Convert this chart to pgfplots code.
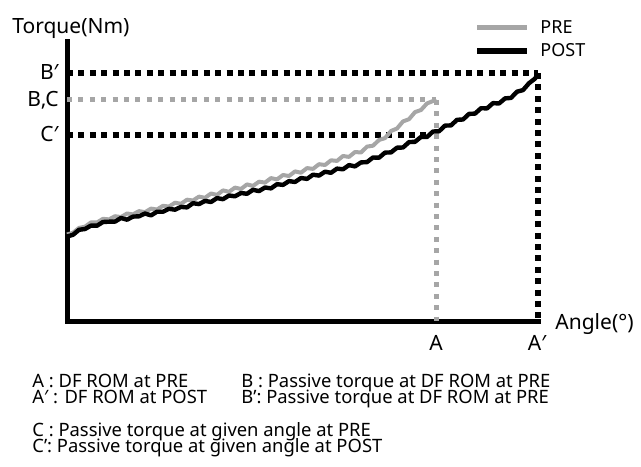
\documentclass[border=0pt]{standalone}
\usepackage{pgfplots}
\pgfplotsset{compat=1.18}
\usepackage{fontspec}
\setmainfont{Noto Sans}
\definecolor{pregray}{HTML}{A6A6A6}
\begin{document}
\begin{tikzpicture}
\begin{axis}[
  at={(0pt,0pt)}, anchor=south west,
  scale only axis, width=235.5pt, height=139.5pt,
  xmin=0, xmax=471, ymin=0, ymax=279,
  axis x line*=bottom, axis y line*=left,
  axis line style={-, line width=2.5pt, line cap=rect},
  xtick=\empty, ytick=\empty,
  clip=false,
  legend image code/.code={\draw[#1] (0pt,-0.3pt) -- (25pt,-0.3pt);},
  legend style={at={(axis cs:407,300)}, anchor=north west, draw=none, fill=none,
    inner sep=0pt, outer sep=0pt, column sep=5pt, row sep=5.1pt,
    font=\fontsize{9}{10}\selectfont,
    nodes={inner sep=0pt, text height=6.4pt, text depth=0pt}},
  legend cell align=left,
]
\addlegendimage{pregray, line width=2.5pt}
\addlegendimage{black, line width=3.2pt}
% dotted guide lines
\addplot[forget plot, black, line width=3pt, dash pattern=on 3pt off 2.7pt] coordinates {(0,248) (471,248)};
\addplot[forget plot, black, line width=3pt, dash pattern=on 3pt off 2.7pt] coordinates {(471,248) (471,0)};
\addplot[forget plot, pregray, line width=2.5pt, dash pattern=on 2.5pt off 3.2pt] coordinates {(0,221) (369,221)};
\addplot[forget plot, pregray, line width=2.5pt, dash pattern=on 2.5pt off 3.2pt] coordinates {(369,221) (369,0)};
\addplot[forget plot, black, line width=3pt, dash pattern=on 3pt off 2.7pt] coordinates {(0,186) (363,186)};
% PRE
\addplot[forget plot, pregray, line width=2pt, line join=round] coordinates {
(0,86.5) (6,88.2) (12,93.1) (18,94.3) (24,98.6) (30,98.5) (36,102.2) (42,101.6) (48,104.8) (54,103.9) (60,107.5) (66,106.6) (72,109.9) (78,108.8) (84,112.4) (90,111.5) (96,115.2) (102,114.4) (108,118.3) (114,117.2) (120,121.3) (126,120.5) (132,124.4) (138,123.2) (144,127.5) (150,126.1) (156,130.6) (162,129.2) (168,133.4) (174,132.0) (180,136.6) (186,135.1) (192,139.3) (198,138.4) (204,142.9) (210,141.6) (216,146.0) (222,145.0) (228,149.6) (234,148.3) (240,152.9) (246,152.1) (252,156.8) (258,156.0) (264,160.7) (270,160.1) (276,165.0) (282,164.1) (288,169.0) (294,168.5) (300,174.4) (306,175.3) (312,181.0) (318,182.9) (324,190.0) (330,192.5) (336,199.6) (342,201.8) (348,208.9) (354,211.0) (360,217.6) (366,220.0) (369,222)
};
% POST
\addplot[forget plot, black, line width=2.2pt, line join=round] coordinates {
(0,84.5) (6,86.2) (12,91.2) (18,92.0) (24,95.4) (30,95.3) (36,99.0) (42,99.3) (48,99.4) (54,103.0) (60,101.3) (66,104.4) (72,104.7) (78,107.5) (84,105.6) (90,109.3) (96,109.3) (102,112.2) (108,111.3) (114,114.1) (120,113.6) (126,117.8) (132,116.9) (138,120.1) (144,119.0) (150,122.9) (156,121.8) (162,125.5) (168,124.7) (174,128.0) (180,127.2) (186,131.2) (192,129.9) (198,133.5) (204,132.6) (210,136.8) (216,136.1) (222,139.9) (228,139.0) (234,143.0) (240,142.1) (246,146.3) (252,145.4) (258,149.3) (264,148.2) (270,152.4) (276,151.7) (282,155.9) (288,154.6) (294,158.6) (300,158.9) (306,163.5) (312,163.3) (318,168.4) (324,168.6) (330,173.3) (336,173.5) (342,178.9) (348,179.2) (354,184.1) (360,184.0) (366,189.5) (372,189.7) (378,195.4) (384,195.6) (390,201.2) (396,201.5) (402,207.1) (408,207.4) (414,212.8) (420,212.6) (426,217.9) (432,217.5) (438,222.6) (444,223.1) (450,229.3) (456,230.9) (462,237.8) (468,242.4) (471,247)
};
\legend{PRE, POST}
% labels
\node[anchor=base west, inner sep=0pt, font=\fontsize{10.5}{12}\selectfont] at (axis cs:-55,287) {Torque(Nm)};
\node[anchor=base east, inner sep=0pt, font=\fontsize{10.5}{12}\selectfont] at (axis cs:-8,241) {B′};
\node[anchor=base east, inner sep=0pt, font=\fontsize{10.5}{12}\selectfont] at (axis cs:-8,214) {B,C};
\node[anchor=base east, inner sep=0pt, font=\fontsize{10.5}{12}\selectfont] at (axis cs:-8,179) {C′};
\node[anchor=base, inner sep=0pt, font=\fontsize{10.5}{12}\selectfont] at (axis cs:369,-29) {A};
\node[anchor=base, inner sep=0pt, font=\fontsize{10.5}{12}\selectfont] at (axis cs:470,-29) {A′};
\node[anchor=base west, inner sep=0pt, font=\fontsize{10.5}{12}\selectfont] at (axis cs:488,-8) {Angle(°)};
% caption
\node[anchor=base west, inner sep=0pt, font=\fontsize{9.2}{11}\selectfont] at (axis cs:-35,-66) {A : DF ROM at PRE};
\node[anchor=base west, inner sep=0pt, font=\fontsize{9.2}{11}\selectfont] at (axis cs:-35,-82) {A′ : DF ROM at POST};
\node[anchor=base west, inner sep=0pt, font=\fontsize{9.2}{11}\selectfont] at (axis cs:174,-66) {B : Passive torque at DF ROM at PRE};
\node[anchor=base west, inner sep=0pt, font=\fontsize{9.2}{11}\selectfont] at (axis cs:174,-82) {B’: Passive torque at DF ROM at PRE};
\node[anchor=base west, inner sep=0pt, font=\fontsize{9.2}{11}\selectfont] at (axis cs:-35,-115) {C : Passive torque at given angle at PRE};
\node[anchor=base west, inner sep=0pt, font=\fontsize{9.2}{11}\selectfont] at (axis cs:-35,-131) {C’: Passive torque at given angle at POST};
\end{axis}
\pgfresetboundingbox
\path[use as bounding box] (-33.5pt,-72.5pt) rectangle (287pt,160.5pt);
\end{tikzpicture}
\end{document}
